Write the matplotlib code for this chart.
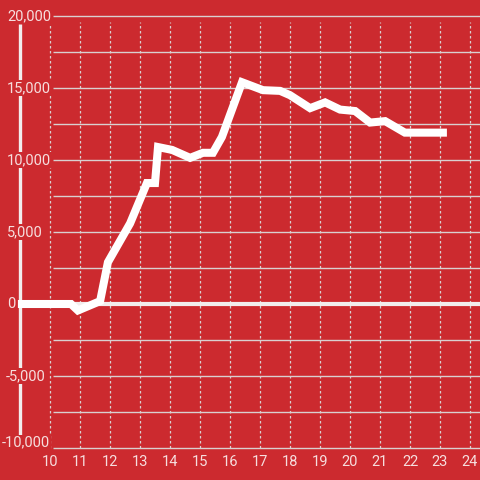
import matplotlib
matplotlib.use('Agg')
import matplotlib.pyplot as plt

# Data
x_vals = [8.93, 10.7, 10.93, 11.67, 11.93, 12.67, 13.23, 13.5, 13.6, 14.07, 14.67,
          15.1, 15.43, 15.73, 16.4, 17.1, 17.67, 18.0, 18.67, 19.17, 19.67,
          20.17, 20.67, 21.17, 21.83, 23.23]
y_vals = [0, 0, -450, 200, 2900, 5600, 8400, 8400, 10900, 10700, 10150,
          10500, 10500, 11600, 15400, 14850, 14800, 14500, 13600, 14000, 13500,
          13400, 12600, 12700, 11900, 11900]
x_ticks = list(range(10, 25))
y_ticks = [-10000, -5000, 0, 5000, 10000, 15000, 20000]
y_grid = [-10000 + 2500 * i for i in range(13)]

bg = '#cc2a2f'
txt = '#f6dede'
grid_col = '#d9d0d0'

fig = plt.figure(figsize=(4.8, 4.8), dpi=100)
fig.patch.set_facecolor(bg)
ax = fig.add_axes([0, 0, 1, 1])
ax.set_facecolor(bg)
ax.set_xlim(8.333, 24.333)
ax.set_ylim(-12222, 21111)
ax.axis('off')

# grid
ax.hlines(y_grid, 10.1, 24.333, colors=grid_col, linewidth=1.0, zorder=1)
ax.vlines(x_ticks, -10000, 19600, colors=grid_col, linewidth=0.9,
          linestyles=(0, (2, 2)), zorder=1)

# axis line on the left and zero line
ax.plot([9.0, 9.0], [-9200, 19450], color='#f2eded', linewidth=2.4, zorder=2,
        solid_capstyle='butt')
ax.plot([8.93, 24.333], [0, 0], color='#f2eded', linewidth=3.0, zorder=2,
        solid_capstyle='butt')

# the series
ax.plot(x_vals, y_vals, color='white', linewidth=5.8, zorder=4,
        solid_joinstyle='miter', solid_capstyle='butt')

# tick labels (left aligned, boxed so they cut the axis line)
for v in y_ticks:
    ypos = v if v > -10000 else -9600
    xpos = 8.57 if v >= 0 else 8.53
    if v == -10000:
        xpos = 8.4
    ax.text(xpos, ypos, f'{v:,}', ha='left', va='center', color=txt,
            fontsize=10.5, family='Roboto', zorder=3,
            bbox=dict(facecolor=bg, edgecolor='none', pad=0.5))
for t in x_ticks:
    ax.text(t, -10970, str(t), ha='center', va='center', color=txt,
            fontsize=10.5, family='Roboto', zorder=3)

fig.savefig('out.png', dpi=100, facecolor=bg)
